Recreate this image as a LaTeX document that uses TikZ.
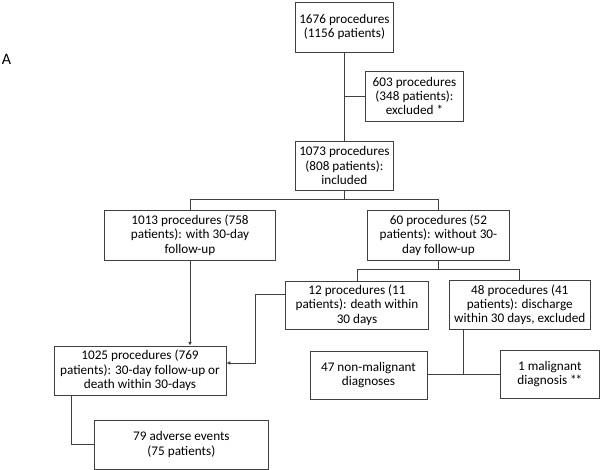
\documentclass[tikz,border=0pt]{standalone}
\usepackage{fontspec}
\setmainfont{Carlito}
\usetikzlibrary{positioning,calc,arrows.meta}

\tikzset{
  box/.style={draw=black!75, line width=0.8pt, align=center, inner sep=1pt,
    font=\fontsize{13.2}{14.3}\selectfont},
  link/.style={draw=black!75, line width=0.8pt},
  arr/.style={link, -{Latex[length=3.8pt,width=3.8pt]}}
}

\begin{document}
\begin{tikzpicture}[x=1pt,y=-1pt]
        \useasboundingbox (0,0) rectangle (600,470);
        \node[font=\fontsize{16}{18}\selectfont, inner sep=0pt] (lblA) at (6.5,59.5) {A};

        % enrolment
        \node[box, minimum width=98.7pt, minimum height=50pt] (proc1676) at (344.4,27) {1676 procedures\\(1156 patients)};
        \node[box, minimum width=98.7pt, minimum height=50pt] (excl603) at (414.5,96) {603 procedures\\(348 patients):\\excluded *};
        \node[box, minimum width=98.7pt, minimum height=49pt] (incl1073) at (344.4,165.5) {1073 procedures\\(808 patients):\\included};

        % follow-up split
        \node[box, minimum width=171pt, minimum height=50pt] (with1013) at (190,235) {1013 procedures (758\\patients): with 30-day\\follow-up};
        \node[box, minimum width=142.4pt, minimum height=50pt] (without60) at (438.5,235) {60 procedures (52\\patients): without 30-\\day follow-up};
        \node[box, minimum width=142.4pt, minimum height=48pt] (death12) at (357,305) {12 procedures (11\\patients): death within\\30 days};
        \node[box, minimum width=141.5pt, minimum height=49pt] (disch48) at (519.8,304.7) {48 procedures (41\\patients): discharge\\within 30 days, excluded};
        \node[box, minimum width=172.2pt, minimum height=49pt] (final1025) at (140,370.5) {1025 procedures (769\\patients): 30-day follow-up or\\death within 30-days};
        \node[box, minimum width=117pt, minimum height=48pt] (nonmal47) at (368.5,375) {47 non-malignant\\diagnoses};
        \node[box, minimum width=98.3pt, minimum height=48.7pt] (mal1) at (549.8,374.4) {1 malignant\\diagnosis *\kern-1.2pt*};
        \node[box, minimum width=174.5pt, minimum height=49pt] (adv79) at (181.4,444.5) {79 adverse events\\(75 patients)};

        % Connections
        \draw[link] (proc1676.south) -- (incl1073.north);
        \draw[link] (excl603.west) -- (excl603.west -| proc1676.south);

        \draw[link] (incl1073.south) -- ++(0,10);
        \draw[link] (with1013.north) -- ++(0,-10) -| (without60.north);
        \draw[arr] (with1013.south) -- (with1013.south |- final1025.north);

        \draw[link] (without60.south) -- ++(0,10);
        \draw[link] (death12.north) -- ++(0,-11) -| (disch48.north);

        \coordinate (elbow) at (254.9,363);
        \draw[arr] ([yshift=11pt]death12.west) -| (elbow) -- (elbow -| final1025.east);

        \coordinate (join) at (463.5,374.4);
        \draw[link] (join |- disch48.south) -- (join);
        \draw[link] (nonmal47.east |- join) -- (mal1.west);

        \draw[link] ([xshift=-69pt]final1025.south) |- (adv79.west);
    \end{tikzpicture}
\end{document}
